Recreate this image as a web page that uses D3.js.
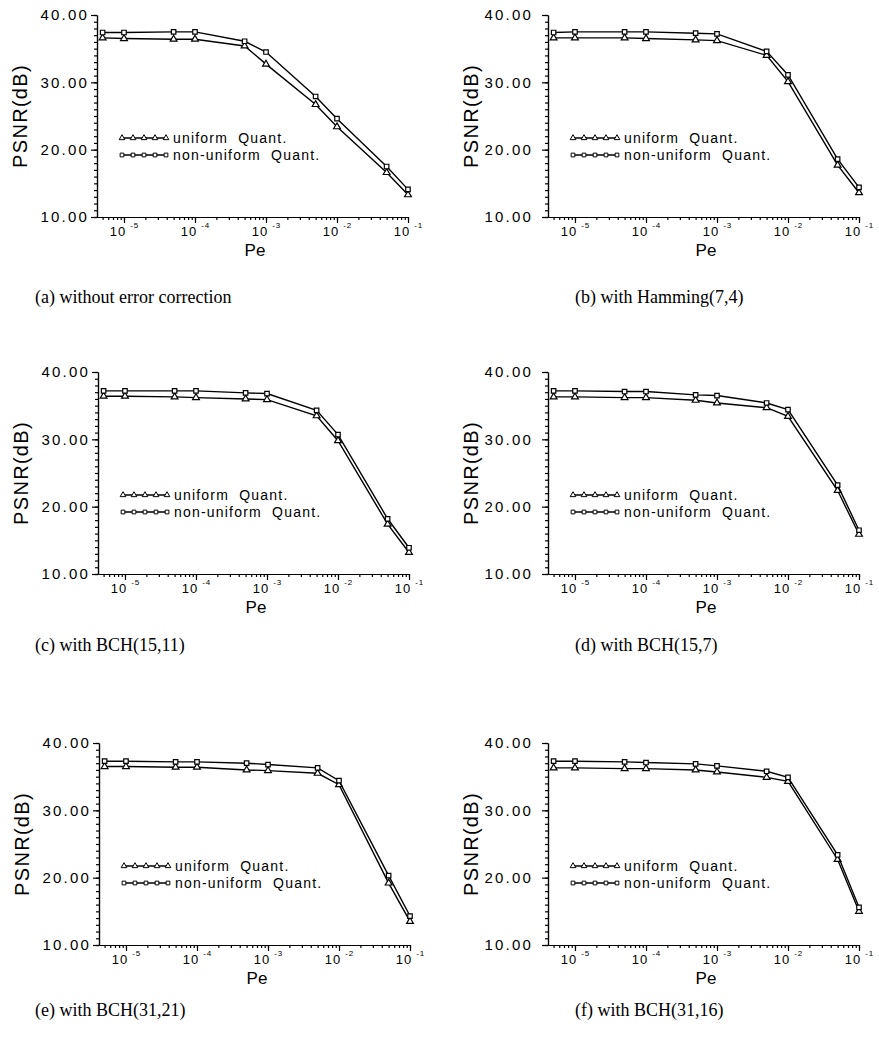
<!DOCTYPE html>
<html>
<head>
<meta charset="utf-8">
<script src="https://cdn.jsdelivr.net/npm/d3@7/dist/d3.min.js"></script>
<style>
    body { margin: 0; background: #fff; }
    svg { display: block; }
    .sans { font-family: "Liberation Sans", Arial, sans-serif; fill: #000; }
    .caption { font-family: "Liberation Serif", "Times New Roman", serif; font-size: 18px; fill: #000; }
</style>
</head>
<body>
<div id="chart"></div>
<script>
// error probabilities on the x axis
const pe = [5e-6, 1e-5, 5e-5, 1e-4, 5e-4, 1e-3, 5e-3, 1e-2, 5e-2, 1e-1];
const yTicks = [10, 20, 30, 40];
const xTicks = [1e-5, 1e-4, 1e-3, 1e-2, 1e-1];
const xExponents = ["-5", "-4", "-3", "-2", "-1"];
const legendLabels = ["uniform  Quant.", "non-uniform  Quant."];
const captions = [
    "(a) without error correction",
    "(b) with Hamming(7,4)",
    "(c) with BCH(15,11)",
    "(d) with BCH(15,7)",
    "(e) with BCH(31,21)",
    "(f) with BCH(31,16)"
];

// PSNR (dB)
const uniformA = [36.6, 36.5, 36.4, 36.4, 35.4, 32.7, 26.7, 23.4, 16.6, 13.3];
const nonUniformA = [37.4, 37.4, 37.5, 37.5, 36.1, 34.5, 27.9, 24.6, 17.5, 14.1];
const uniformB = [36.6, 36.6, 36.6, 36.5, 36.3, 36.2, 34.0, 30.1, 17.7, 13.6];
const nonUniformB = [37.4, 37.5, 37.5, 37.5, 37.3, 37.2, 34.6, 31.1, 18.6, 14.4];
const uniformC = [36.4, 36.4, 36.3, 36.2, 36.0, 35.9, 33.5, 29.8, 17.4, 13.2];
const nonUniformC = [37.2, 37.2, 37.2, 37.2, 36.9, 36.8, 34.3, 30.7, 18.2, 13.9];
const uniformD = [36.3, 36.3, 36.2, 36.2, 35.8, 35.4, 34.7, 33.4, 22.4, 15.9];
const nonUniformD = [37.2, 37.2, 37.1, 37.1, 36.6, 36.5, 35.4, 34.4, 23.2, 16.5];
const uniformE = [36.5, 36.5, 36.4, 36.4, 36.0, 35.9, 35.5, 33.8, 19.2, 13.5];
const nonUniformE = [37.3, 37.3, 37.2, 37.2, 37.0, 36.8, 36.3, 34.4, 20.3, 14.3];
const uniformF = [36.3, 36.3, 36.2, 36.2, 36.0, 35.7, 34.9, 34.3, 22.7, 15.0];
const nonUniformF = [37.3, 37.3, 37.2, 37.1, 36.9, 36.6, 35.8, 34.9, 23.4, 15.6];

const width = 879, height = 1053;
const plotW = 311, plotH = 202;

const svg = d3.select("#chart")
    .append("svg")
    .attr("width", width)
    .attr("height", height)
    .attr("viewBox", [0, 0, width, height]);

function panel(uni, non, caption, left, top, labelGap, captionX, captionY) {
    let x = d3.scaleLog()
        .domain([Math.pow(10, -5.38), 0.1])
        .range([left, left + plotW]);
    let y = d3.scaleLinear()
        .domain([10, 40])
        .range([top + plotH, top]);

    let g = svg.append("g").attr("class", "panel");

    // y axis: minor every 1 dB, major every 10
    g.append("g")
        .attr("transform", `translate(${left},0)`)
        .call(d3.axisLeft(y).tickValues(d3.range(10, 41, 1)).tickSize(3).tickSizeOuter(0).tickFormat(""));
    let ya = g.append("g")
        .attr("transform", `translate(${left},0)`)
        .call(d3.axisLeft(y).tickValues(yTicks).tickSize(6).tickSizeOuter(0)
            .tickPadding(labelGap - 6).tickFormat(d3.format(".2f")));
    ya.selectAll("text")
        .attr("class", "sans")
        .attr("font-size", 15)
        .attr("letter-spacing", "2.2px")
        .attr("dx", "2px");

    // x axis: log minor ticks pointing down, decades longer
    g.append("g")
        .attr("transform", `translate(0,${top + plotH})`)
        .call(d3.axisBottom(x).tickValues(x.ticks()).tickSize(3).tickSizeOuter(0).tickFormat(""));
    let xa = g.append("g")
        .attr("transform", `translate(0,${top + plotH})`)
        .call(d3.axisBottom(x).tickValues(xTicks).tickSize(6).tickSizeOuter(0).tickFormat(""));
    xa.selectAll(".tick").each(function (d, i) {
        let t = d3.select(this).append("text")
            .attr("class", "sans")
            .attr("y", 19)
            .attr("text-anchor", "middle")
            .attr("font-size", 13)
            .attr("letter-spacing", "1px");
        t.append("tspan").text("10");
        t.append("tspan")
            .attr("dx", 4)
            .attr("dy", -8)
            .attr("font-size", 8)
            .text(xExponents[i]);
    });
    g.selectAll(".domain, .tick line").attr("stroke", "#000").attr("stroke-width", 1.2);

    g.append("text")
        .attr("class", "sans")
        .attr("x", left + 158)
        .attr("y", top + plotH + 39)
        .attr("text-anchor", "middle")
        .attr("font-size", 17)
        .text("Pe");

    g.append("text")
        .attr("class", "sans")
        .attr("transform", `translate(${left - 77},${top + 101}) rotate(-90)`)
        .attr("text-anchor", "middle")
        .attr("dominant-baseline", "central")
        .attr("font-size", 20)
        .attr("letter-spacing", "1.3px")
        .text("PSNR(dB)");

    let line = d3.line()
        .x((d) => x(d.pe))
        .y((d) => y(d.v));

    let series = [
        { values: uni, shape: d3.symbolTriangle },
        { values: non, shape: d3.symbolSquare }
    ];

    series.forEach((s, k) => {
        let pts = pe.map((p, i) => ({ pe: p, v: s.values[i] }));
        g.append("path")
            .datum(pts)
            .attr("fill", "none")
            .attr("stroke", "#000")
            .attr("stroke-width", 1.4)
            .attr("d", line);
        g.selectAll(null)
            .data(pts)
            .join("path")
            .attr("transform", (d) => `translate(${x(d.pe)},${y(d.v)})`)
            .attr("d", d3.symbol(s.shape, 20))
            .attr("fill", "#fff")
            .attr("stroke", "#000")
            .attr("stroke-width", 1.2);

        // legend entry
        let ly = top + 123 + k * 17;
        g.append("line")
            .attr("x1", left + 24).attr("x2", left + 70)
            .attr("y1", ly).attr("y2", ly)
            .attr("stroke", "#000")
            .attr("stroke-width", 1.3);
        g.selectAll(null)
            .data(d3.range(5))
            .join("path")
            .attr("transform", (j) => `translate(${left + 25 + j * 11},${ly})`)
            .attr("d", d3.symbol(s.shape, 14))
            .attr("fill", "#fff")
            .attr("stroke", "#000")
            .attr("stroke-width", 1);
        g.append("text")
            .attr("class", "sans")
            .attr("x", left + 76)
            .attr("y", ly + 5)
            .attr("font-size", 14)
            .attr("letter-spacing", "1.2px")
            .style("white-space", "pre")
            .text(legendLabels[k]);
    });

    svg.append("text")
        .attr("class", "caption")
        .attr("x", captionX)
        .attr("y", captionY)
        .text(caption);
}

panel(uniformA, nonUniformA, captions[0], 97, 15, 10, 35, 303);
panel(uniformB, nonUniformB, captions[1], 548, 15, 17, 575, 303);
panel(uniformC, nonUniformC, captions[2], 98, 372, 10, 35, 651);
panel(uniformD, nonUniformD, captions[3], 548, 372, 17, 575, 651);
panel(uniformE, nonUniformE, captions[4], 99, 743, 10, 35, 1016);
panel(uniformF, nonUniformF, captions[5], 548, 743, 17, 575, 1016);
</script>
</body>
</html>
